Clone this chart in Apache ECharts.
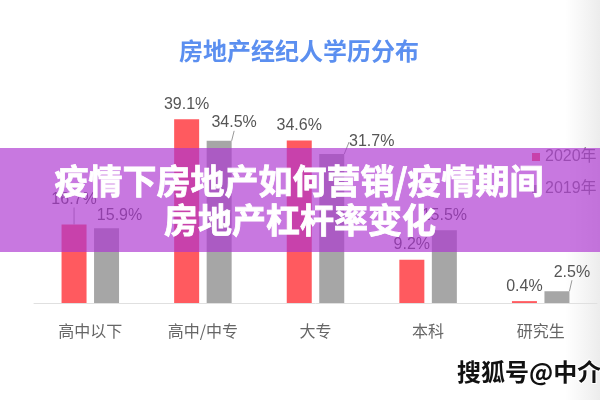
<!DOCTYPE html>
<html>
<head>
<meta charset="utf-8">
<script src="https://cdn.jsdelivr.net/npm/echarts@6/dist/echarts.min.js"></script>
<style>html,body{margin:0;padding:0;background:#fff;}#c{width:600px;height:400px;}</style>
</head>
<body>
<div id="c"></div>
<script>
var categories = ['高中以下', '高中/中专', '大专', '本科', '研究生'];
var seriesNames = ['2020年', '2019年'];
var values2020 = [16.7, 39.1, 34.6, 9.2, 0.4];
var values2019 = [15.9, 34.5, 31.7, 15.5, 2.5];
var chartTitle = '房地产经纪人学历分布';
var bannerLines = ['疫情下房地产如何营销/疫情期间', '房地产杠杆率变化'];
var watermark = '搜狐号@中介';

// label nudges (style only): [seriesIndex][dataIndex] -> [dx, dy, showLine]
var labelNudge = [
  [[0, -10, true], [0, 0, false], [0, 0, false], [0, 0, false], [0, 0, false]],
  [[13, 2, false], [15, -3, true], [40, 3, true], [0, 0, false], [15, -4, true]]
];

var FONT = "'Liberation Sans', 'Noto Sans CJK SC', sans-serif";
var CJK = "'Noto Sans CJK SC', sans-serif";

function buildData(vals, si) {
  return vals.map(function (v, i) {
    return { value: v, labelLine: { show: labelNudge[si][i][2] } };
  });
}

var chart = echarts.init(document.getElementById('c'), null, { renderer: 'canvas' });
var colors = ['#ff5a5f', '#a6a6a6'];

var labelCfg = {
  show: true, position: 'top', distance: 7,
  formatter: '{c}%', fontSize: 16, color: '#555', fontFamily: FONT
};

chart.setOption({
  animation: false,
  backgroundColor: '#fff',
  textStyle: { fontFamily: FONT },
  title: {
    text: chartTitle, left: 174, top: 34,
    textStyle: { fontSize: 24, fontWeight: 'bold', color: '#5b8ff0', fontFamily: CJK }
  },
  legend: {
    orient: 'vertical', left: 527, top: 144,
    itemWidth: 8, itemHeight: 8, itemGap: 16,
    icon: 'rect',
    data: seriesNames,
    textStyle: { fontSize: 16, color: '#777', fontFamily: FONT }
  },
  grid: { left: 34, right: 3, top: 68, bottom: 97 },
  xAxis: {
    type: 'category', data: categories,
    axisLine: { lineStyle: { color: '#e0e0e0', width: 1 } },
    axisTick: { show: false },
    axisLabel: { fontSize: 16, color: '#666', margin: 20, fontFamily: CJK }
  },
  yAxis: {
    type: 'value', min: 0, max: 50, show: false,
    splitLine: { show: false }
  },
  series: [
    {
      name: seriesNames[0], type: 'bar', data: buildData(values2020, 0),
      barWidth: 25, barGap: '30%',
      itemStyle: { color: colors[0] },
      label: labelCfg,
      labelLine: { lineStyle: { color: '#999', width: 1 } }
    },
    {
      name: seriesNames[1], type: 'bar', data: buildData(values2019, 1),
      barWidth: 25, barGap: '30%',
      itemStyle: { color: colors[1] },
      label: labelCfg,
      labelLine: { lineStyle: { color: '#999', width: 1 } }
    }
  ],
  labelLayout: function (p) {
    var n = labelNudge[p.seriesIndex][p.dataIndex];
    return { dx: n[0], dy: n[1] };
  },
  graphic: [
    {
      type: 'rect', z: -1, silent: true,
      shape: { x: 565, y: 0, width: 35, height: 400 },
      style: {
        fill: new echarts.graphic.LinearGradient(0, 0, 1, 0, [
          { offset: 0, color: 'rgba(238,238,238,0)' },
          { offset: 1, color: 'rgba(236,236,236,1)' }
        ])
      }
    },
    {
      type: 'rect', z: 50, silent: true,
      shape: { x: 0, y: 148, width: 600, height: 104 },
      style: { fill: 'rgba(173,54,209,0.67)' }
    },
    {
      type: 'text', z: 51, silent: true,
      x: 299, y: 181,
      style: {
        text: bannerLines[0], fill: '#fff', align: 'center', verticalAlign: 'middle',
        font: 'bold 34px ' + CJK,
        stroke: '#fff', lineWidth: 0.8,
        shadowColor: 'rgba(0,0,0,0.35)', shadowBlur: 3, shadowOffsetX: 1, shadowOffsetY: 1
      }
    },
    {
      type: 'text', z: 51, silent: true,
      x: 300, y: 220,
      style: {
        text: bannerLines[1], fill: '#fff', align: 'center', verticalAlign: 'middle',
        font: 'bold 34px ' + CJK,
        stroke: '#fff', lineWidth: 0.8,
        shadowColor: 'rgba(0,0,0,0.35)', shadowBlur: 3, shadowOffsetX: 1, shadowOffsetY: 1
      }
    },
    {
      type: 'text', z: 52, silent: true,
      x: 457, y: 372,
      style: {
        text: watermark, fill: '#111', align: 'left', verticalAlign: 'middle',
        font: 'bold 24px ' + CJK,
        stroke: '#fff', lineWidth: 2
      }
    }
  ]
});
</script>
</body>
</html>
